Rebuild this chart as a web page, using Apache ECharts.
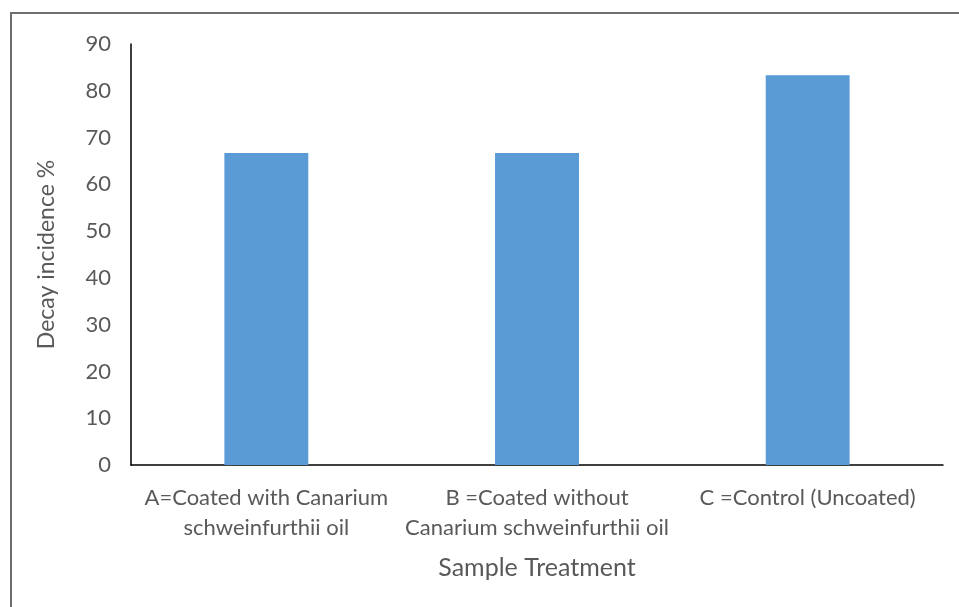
<!DOCTYPE html>
<html><head><meta charset="utf-8">
<script src="https://cdn.jsdelivr.net/npm/echarts@6/dist/echarts.min.js"></script>
<style>
html,body{margin:0;padding:0;background:#fff;}
#frame{position:absolute;left:10px;top:12px;width:960px;height:610px;border-top:2px solid #6e6e6e;border-left:2px solid #6e6e6e;box-sizing:border-box;}
#chart{position:absolute;left:0;top:0;width:959px;height:607px;}
</style></head>
<body>
<div id="frame"></div>
<div id="chart"></div>
<script>
const categories = ["A=Coated with Canarium\nschweinfurthii oil", "B =Coated without\nCanarium schweinfurthii oil", "C =Control (Uncoated)"];
const decayIncidence = [66.7, 66.7, 83.3];
const yTicks = {min: 0, max: 90, interval: 10};

const chart = echarts.init(document.getElementById('chart'), null, {renderer: 'canvas'});
const font = "Lato, 'Open Sans', sans-serif";
chart.setOption({
  animation: false,
  backgroundColor: 'transparent',
  grid: {left: 131, right: 16, top: 44, bottom: 142, containLabel: false},
  xAxis: {
    type: 'category',
    data: categories,
    name: 'Sample Treatment',
    nameLocation: 'middle',
    nameGap: 90,
    nameTextStyle: {color: '#595959', fontSize: 25, fontFamily: font},
    axisLine: {lineStyle: {color: '#000', width: 1.5}},
    axisTick: {show: false},
    axisLabel: {color: '#595959', fontSize: 22, fontFamily: font, lineHeight: 30, margin: 18, interval: 0}
  },
  yAxis: {
    type: 'value',
    min: yTicks.min, max: yTicks.max, interval: yTicks.interval,
    name: 'Decay incidence %',
    nameLocation: 'middle',
    nameGap: 73,
    nameTextStyle: {color: '#595959', fontSize: 23, fontFamily: font},
    axisLine: {show: true, lineStyle: {color: '#000', width: 1.5}},
    axisTick: {show: false},
    splitLine: {show: false},
    axisLabel: {color: '#595959', fontSize: 22, fontFamily: font, margin: 20}
  },
  series: [{
    type: 'bar',
    data: decayIncidence,
    barWidth: '31%',
    itemStyle: {color: '#5b9bd5'}
  }]
});
</script>
</body></html>
